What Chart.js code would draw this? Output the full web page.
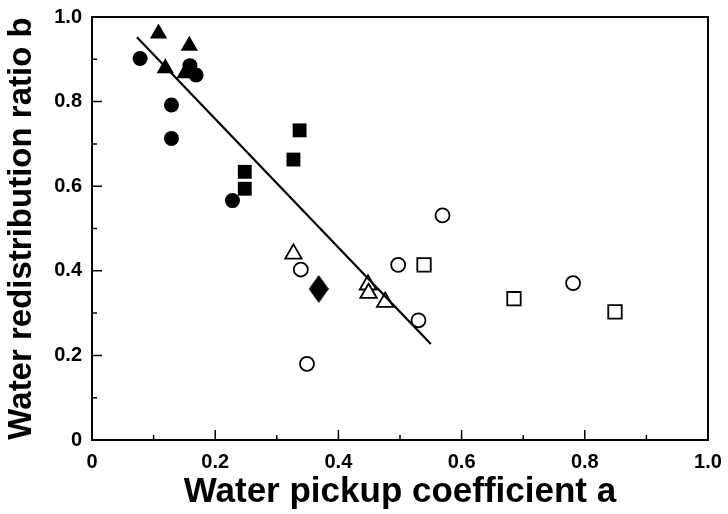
<!DOCTYPE html>
<html>
<head>
<meta charset="utf-8">
<script src="https://cdn.jsdelivr.net/npm/chart.js@4.4.0/dist/chart.umd.min.js"></script>
<style>
  html, body { margin: 0; padding: 0; background: #fff; }
  #wrap { width: 728px; height: 514px; }
</style>
</head>
<body>
<div id="wrap"><canvas id="grafico" width="728" height="514"></canvas></div>
<script>
// datos
const filledCircleA = [0.078, 0.129, 0.129, 0.159, 0.169, 0.228];
const filledCircleB = [0.902, 0.792, 0.713, 0.885, 0.863, 0.566];
const filledTriangleA = [0.108, 0.158, 0.119, 0.151];
const filledTriangleB = [0.961, 0.932, 0.879, 0.867];
const filledSquareA = [0.248, 0.248, 0.327, 0.337];
const filledSquareB = [0.594, 0.634, 0.663, 0.732];
const filledDiamondA = [0.368];
const filledDiamondB = [0.357];
const openTriangleA = [0.327, 0.448, 0.449, 0.476];
const openTriangleB = [0.440, 0.367, 0.347, 0.326];
const openCircleA = [0.339, 0.349, 0.497, 0.530, 0.569, 0.781];
const openCircleB = [0.403, 0.180, 0.414, 0.283, 0.531, 0.371];
const openSquareA = [0.539, 0.685, 0.849];
const openSquareB = [0.414, 0.334, 0.303];
const fitLineA = [0.073, 0.550];
const fitLineB = [0.952, 0.227];
const tickValues = [0, 0.2, 0.4, 0.6, 0.8, 1.0];

function pares(xs, ys) {
  return xs.map((x, i) => ({ x: x, y: ys[i] }));
}

// rombo un poco mas alto que ancho
const rombo = document.createElement('canvas');
rombo.width = 20;
rombo.height = 28;
const rctx = rombo.getContext('2d');
rctx.fillStyle = '#000';
rctx.beginPath();
rctx.moveTo(10, 0);
rctx.lineTo(20, 14);
rctx.lineTo(10, 28);
rctx.lineTo(0, 14);
rctx.closePath();
rctx.fill();

function serie(xs, ys, estilo, radio, relleno) {
  return {
    data: pares(xs, ys),
    pointStyle: estilo,
    pointRadius: radio,
    pointBackgroundColor: relleno ? '#000' : '#fff',
    pointBorderColor: '#000',
    pointBorderWidth: relleno ? 0 : 1.8,
    showLine: false,
    order: 1
  };
}

// ticks hacia dentro y marco completo
const marco = {
  id: 'marco',
  afterDatasetsDraw(chart) {
    const { ctx, chartArea: a, scales } = chart;
    ctx.save();
    ctx.strokeStyle = '#000';
    ctx.lineWidth = 2;
    ctx.strokeRect(a.left, a.top, a.right - a.left, a.bottom - a.top);
    ctx.lineWidth = 1.5;
    for (let i = 1; i < 10; i++) {
      const largo = i % 2 === 0 ? 10 : 5;
      const px = scales.x.getPixelForValue(i / 10);
      const py = scales.y.getPixelForValue(i / 10);
      ctx.beginPath();
      ctx.moveTo(px, a.bottom);
      ctx.lineTo(px, a.bottom - largo);
      ctx.moveTo(a.left, py);
      ctx.lineTo(a.left + largo, py);
      ctx.stroke();
    }
    ctx.restore();
  }
};

const etiqueta = v => (v === 0 ? '0' : v.toFixed(1));
const fuenteTicks = { family: 'Liberation Sans', size: 20, weight: 'bold' };

new Chart(document.getElementById('grafico'), {
  type: 'scatter',
  data: {
    datasets: [
      {
        data: pares(fitLineA, fitLineB),
        showLine: true,
        borderColor: '#000',
        borderWidth: 2.2,
        pointRadius: 0,
        order: 0
      },
      serie(filledCircleA, filledCircleB, 'circle', 7.5, true),
      serie(filledTriangleA, filledTriangleB, 'triangle', 10, true),
      serie(filledSquareA, filledSquareB, 'rect', 9.8, true),
      serie(filledDiamondA, filledDiamondB, rombo, 10, true),
      serie(openTriangleA, openTriangleB, 'triangle', 9.5, false),
      serie(openCircleA, openCircleB, 'circle', 7, false),
      serie(openSquareA, openSquareB, 'rect', 9.5, false)
    ]
  },
  options: {
    responsive: false,
    animation: false,
    layout: { padding: { left: 0, right: 20, top: 17, bottom: 0 } },
    plugins: {
      legend: { display: false },
      tooltip: { enabled: false }
    },
    scales: {
      x: {
        type: 'linear',
        min: 0,
        max: 1,
        afterBuildTicks: s => { s.ticks = tickValues.map(v => ({ value: v })); },
        afterFit: s => { s.height = 74; s.paddingLeft = 0; s.paddingRight = 0; },
        grid: { display: false, drawTicks: false },
        border: { display: false },
        ticks: {
          color: '#000',
          font: fuenteTicks,
          padding: 10,
          maxRotation: 0,
          callback: etiqueta
        },
        title: {
          display: true,
          text: 'Water pickup coefficient a',
          color: '#000',
          font: { family: 'Liberation Sans', size: 35, weight: 'bold' },
          padding: { top: 0, bottom: 1 }
        }
      },
      y: {
        type: 'linear',
        min: 0,
        max: 1,
        afterBuildTicks: s => { s.ticks = tickValues.map(v => ({ value: v })); },
        afterFit: s => { s.width = 92; s.paddingTop = 0; s.paddingBottom = 0; },
        grid: { display: false, drawTicks: false },
        border: { display: false },
        ticks: {
          color: '#000',
          font: fuenteTicks,
          padding: 10,
          callback: etiqueta
        },
        title: {
          display: true,
          text: 'Water redistribution ratio b',
          color: '#000',
          font: { family: 'Liberation Sans', size: 33, weight: 'bold' },
          padding: { top: 2, bottom: 0 }
        }
      }
    }
  },
  plugins: [marco]
});
</script>
</body>
</html>
